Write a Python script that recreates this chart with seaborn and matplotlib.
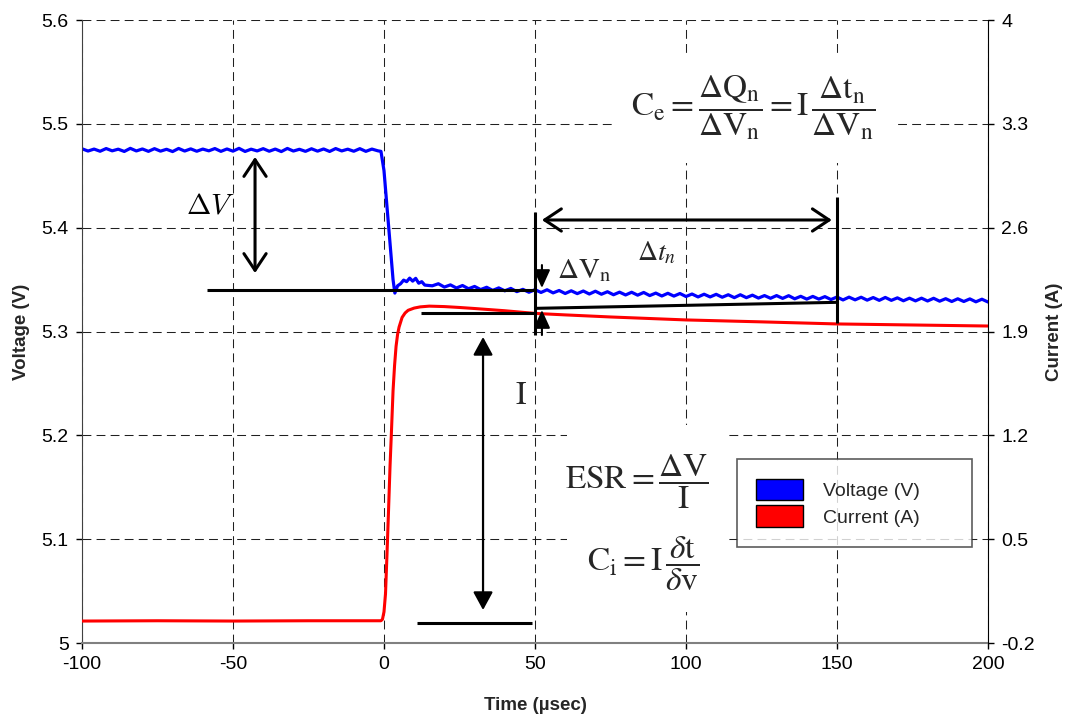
import matplotlib
matplotlib.use('Agg')
import matplotlib.pyplot as plt
from matplotlib.patches import Patch, Rectangle
import seaborn as sns

# ---- scope trace, voltage channel (time in usec, volts) ----
volt_time = [-100, -98, -96, -94, -92, -90, -88, -86, -84, -82,
             -80, -78, -76, -74, -72, -70, -68, -66, -64, -62,
             -60, -58, -56, -54, -52, -50, -48, -46, -44, -42,
             -40, -38, -36, -34, -32, -30, -28, -26, -24, -22,
             -20, -18, -16, -14, -12, -10, -8, -6, -4, -2,
             -1, 0, 1, 2, 3, 3.6, 4.5, 5.5, 6.5, 7.5, 8.5, 9.5, 10.5, 11.5, 12.5, 13.5,
             16, 18, 20, 22, 24, 26, 28, 30, 32, 34, 36, 38, 40, 42, 44, 46, 48,
             50, 52, 54, 56, 58, 60, 62, 64, 66, 68, 70, 72, 74, 76, 78, 80,
             82, 84, 86, 88, 90, 92, 94, 96, 98, 100, 102, 104, 106, 108, 110,
             112, 114, 116, 118, 120, 122, 124, 126, 128, 130, 132, 134, 136, 138, 140,
             142, 144, 146, 148, 150, 152, 154, 156, 158, 160, 162, 164, 166, 168, 170,
             172, 174, 176, 178, 180, 182, 184, 186, 188, 190, 192, 194, 196, 198, 200]
volt_vals = [5.4760, 5.4738, 5.4757, 5.4736, 5.4762, 5.4740, 5.4756, 5.4734, 5.4764, 5.4739,
             5.4758, 5.4735, 5.4761, 5.4737, 5.4755, 5.4733, 5.4763, 5.4738, 5.4759, 5.4736,
             5.4757, 5.4740, 5.4762, 5.4735, 5.4758, 5.4737, 5.4764, 5.4734, 5.4756, 5.4739,
             5.4761, 5.4736, 5.4757, 5.4733, 5.4763, 5.4738, 5.4755, 5.4735, 5.4760, 5.4737,
             5.4758, 5.4734, 5.4762, 5.4739, 5.4756, 5.4736, 5.4761, 5.4735, 5.4757, 5.4740,
             5.4735, 5.4550, 5.4200, 5.3850, 5.3500, 5.3370, 5.3440, 5.3460, 5.3495, 5.3480,
             5.3514, 5.3485, 5.3512, 5.3465, 5.3480, 5.3447,
             5.3440, 5.3460, 5.3428, 5.3449, 5.3419, 5.3443, 5.3412, 5.3434, 5.3404, 5.3426,
             5.3396, 5.3420, 5.3392, 5.3415, 5.3384, 5.3406, 5.3378,
             5.3403, 5.3376, 5.3402, 5.3372, 5.3395, 5.3366, 5.3392, 5.3365, 5.3390, 5.3361,
             5.3388, 5.3359, 5.3383, 5.3354, 5.3379, 5.3352,
             5.3378, 5.3350, 5.3376, 5.3346, 5.3370, 5.3342, 5.3368, 5.3341, 5.3366, 5.3337,
             5.3361, 5.3333, 5.3359, 5.3333, 5.3358,
             5.3330, 5.3354, 5.3326, 5.3354, 5.3326, 5.3350, 5.3322, 5.3346, 5.3320, 5.3346,
             5.3319, 5.3345, 5.3315, 5.3339, 5.3312,
             5.3338, 5.3312, 5.3336, 5.3308, 5.3332, 5.3304, 5.3331, 5.3305, 5.3330, 5.3302,
             5.3327, 5.3300, 5.3328, 5.3300, 5.3324,
             5.3296, 5.3321, 5.3295, 5.3321, 5.3294, 5.3320, 5.3292, 5.3316, 5.3289, 5.3315,
             5.3289, 5.3314, 5.3286, 5.3311, 5.3284]

# ---- current channel (time in usec, amps) ----
curr_time = [-100, -75, -50, -25, -1, -0.5, 0, 0.5, 1, 1.5, 2, 2.5, 3, 3.5, 4, 4.5, 5,
             6, 7, 8, 10, 12, 15, 20, 25, 30, 40, 50, 60, 75, 100, 125, 150, 175, 200]
curr_vals = [-0.052, -0.050, -0.052, -0.050, -0.050, -0.040, 0.010, 0.13, 0.40, 0.69, 0.99,
             1.24, 1.50, 1.67, 1.80, 1.88, 1.93, 1.995, 2.025, 2.043, 2.058, 2.066, 2.071,
             2.068, 2.062, 2.055, 2.040, 2.022, 2.012, 1.998, 1.978, 1.965, 1.951, 1.944, 1.937]

x_ticks = [-100, -50, 0, 50, 100, 150, 200]
v_ticks = [5.0, 5.1, 5.2, 5.3, 5.4, 5.5, 5.6]
v_labels = ['5', '5.1', '5.2', '5.3', '5.4', '5.5', '5.6']
i_ticks = [-0.2, 0.5, 1.2, 1.9, 2.6, 3.3, 4.0]
i_labels = ['-0.2', '0.5', '1.2', '1.9', '2.6', '3.3', '4']

sns.set_style('ticks')
plt.rcParams['font.family'] = ['Liberation Sans', 'DejaVu Sans']
plt.rcParams['mathtext.fontset'] = 'stix'

fig = plt.figure(figsize=(10.69, 7.17), dpi=100)
ax = fig.add_axes([0.0767, 0.1032, 0.8475, 0.8689])
ax2 = ax.twinx()

sns.lineplot(x=volt_time, y=volt_vals, ax=ax, color='#0000FF', linewidth=2.3,
             estimator=None, sort=False)
sns.lineplot(x=curr_time, y=curr_vals, ax=ax2, color='#FF0000', linewidth=2.2,
             estimator=None, sort=False)

ax.set_xlim(-100, 200)
ax.set_ylim(5.0, 5.6)
ax2.set_ylim(-0.2, 4.0)
ax.set_xticks(x_ticks)
ax.set_xticklabels([str(v) for v in x_ticks])
ax.set_yticks(v_ticks)
ax.set_yticklabels(v_labels)
ax2.set_yticks(i_ticks)
ax2.set_yticklabels(i_labels)

ax.set_axisbelow(True)
ax.grid(True, color='#202020', linestyle=(0, (8.5, 5)), linewidth=0.75)
ax2.grid(False)

for a in (ax, ax2):
    a.spines['top'].set_visible(False)
ax.spines['right'].set_visible(False)
ax2.spines['left'].set_visible(False)
ax2.spines['bottom'].set_visible(False)
ax.spines['left'].set_color('#404040')
ax.spines['bottom'].set_color('#808080')
ax.spines['bottom'].set_linewidth(1.5)
ax2.spines['right'].set_color('black')

ax.tick_params(axis='both', direction='out', length=4.5, width=1, labelsize=14,
               pad=5, colors='black')
ax2.tick_params(axis='y', direction='out', length=4.5, width=1, labelsize=14,
                pad=5, colors='black')

ax.set_xlabel('Time (µsec)', fontsize=13.5, fontweight='bold', labelpad=17)
ax.set_ylabel('Voltage (V)', fontsize=13.5, fontweight='bold', labelpad=8)
ax2.set_ylabel('Current (A)', fontsize=13.5, fontweight='bold', labelpad=8)

# white backing behind the equations (hides the grid like the original)
ax.add_patch(Rectangle((75.5, 5.4623), 94.7, 0.1059, facecolor='white',
                       edgecolor='none', zorder=1))
ax.add_patch(Rectangle((60.6, 5.0299), 53.3, 0.18, facecolor='white',
                       edgecolor='none', zorder=1))

# ---- annotation marks, drawn on top in voltage coordinates ----
vt = ax.transData


def seg(xs, ys, lw=2.2):
    ax2.plot(xs, ys, color='black', lw=lw, transform=vt, solid_capstyle='butt', zorder=5)


def arrow(x0, y0, x1, y1, style, lw=2.2):
    ax2.annotate('', xy=(x1, y1), xytext=(x0, y0), xycoords=vt, textcoords=vt,
                 arrowprops=dict(arrowstyle=style, color='black', lw=lw, shrinkA=0,
                                 shrinkB=0, mutation_scale=20), zorder=6)


seg([-58.6, 50], [5.3400, 5.3400])
arrow(-42.7, 5.3563, -42.7, 5.4681, '<->,head_length=0.6,head_width=0.4')
seg([12.3, 50], [5.3178, 5.3178])
seg([10.9, 49], [5.0193, 5.0193])
arrow(32.8, 5.0318, 32.8, 5.2947, '<|-|>,head_length=0.55,head_width=0.3', lw=1.6)
seg([50, 50], [5.2966, 5.4151])
seg([150, 150], [5.3082, 5.4295])
arrow(52.3, 5.4074, 148.3, 5.4074, '<->,head_length=0.6,head_width=0.4')
seg([50, 150], [5.3223, 5.3281])
arrow(52.3, 5.3640, 52.3, 5.3419, '-|>,head_length=0.55,head_width=0.25', lw=1.5)
arrow(52.3, 5.2966, 52.3, 5.3207, '-|>,head_length=0.55,head_width=0.25', lw=1.5)

ax2.text(-57.6, 5.4218, r'$\Delta V$', transform=vt, fontsize=21, ha='center',
         va='center', math_fontfamily='cm', color='black', zorder=6)
ax2.text(57.3, 5.3592, r'$\Delta\mathrm{V}_\mathrm{n}$', transform=vt, fontsize=21,
         ha='left', va='center', zorder=6)
ax2.text(90.4, 5.3756, r'$\Delta t_n$', transform=vt, fontsize=20, ha='center',
         va='center', zorder=6)
ax2.text(45.4, 5.2378, r'$\mathrm{I}$', transform=vt, fontsize=23, ha='center',
         va='center', zorder=6)
ax2.text(122.4, 5.5160,
         r'$\mathrm{C}_\mathrm{e} = \dfrac{\Delta\mathrm{Q}_\mathrm{n}}{\Delta\mathrm{V}_\mathrm{n}}'
         r' = \mathrm{I}\,\dfrac{\Delta\mathrm{t}_\mathrm{n}}{\Delta\mathrm{V}_\mathrm{n}}$',
         transform=vt, fontsize=24, ha='center', va='center', zorder=6)
ax2.text(83.8, 5.1550, r'$\mathrm{ESR} = \dfrac{\Delta\mathrm{V}}{\mathrm{I}}$',
         transform=vt, fontsize=24, ha='center', va='center', zorder=6)
ax2.text(85.8, 5.0760, r'$\mathrm{C}_\mathrm{i} = \mathrm{I}\,\dfrac{\delta\mathrm{t}}{\delta\mathrm{v}}$',
         transform=vt, fontsize=24, ha='center', va='center', zorder=6)

handles = [Patch(facecolor='#0000FF', edgecolor='black', label='Voltage (V)'),
           Patch(facecolor='#FF0000', edgecolor='black', label='Current (A)')]
leg = ax2.legend(handles=handles, loc='upper left', bbox_to_anchor=(0.723, 0.157, 0.259, 0.138),
                 mode='expand', fontsize=14, frameon=True, fancybox=False, borderpad=1.0,
                 handlelength=2.4, handleheight=1.35, handletextpad=1.0, labelspacing=0.25,
                 borderaxespad=0)
leg.get_frame().set_edgecolor('#333333')
leg.get_frame().set_linewidth(1.2)
leg.set_zorder(10)

ax.set_xlim(-100, 200)
ax.set_ylim(5.0, 5.6)
ax2.set_ylim(-0.2, 4.0)

fig.savefig('out.png', dpi=100)
